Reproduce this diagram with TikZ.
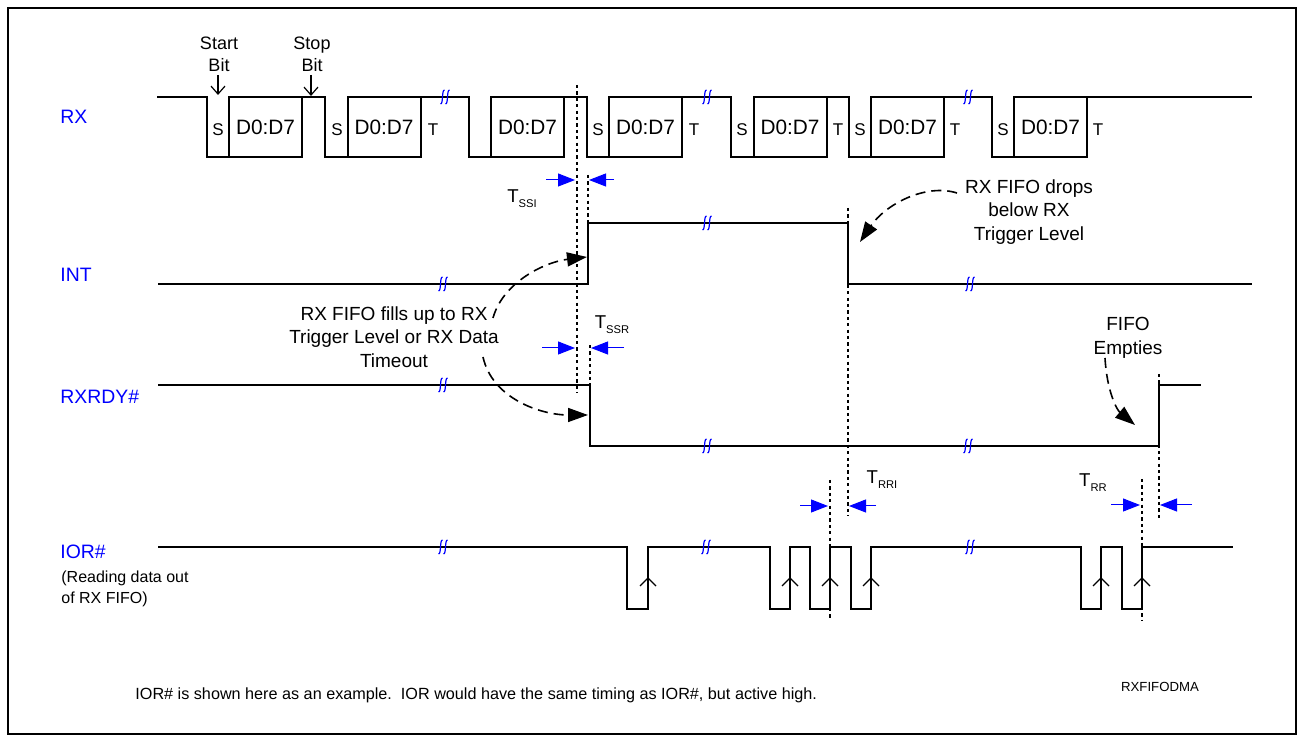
\documentclass[tikz,border=0pt]{standalone}
\usepackage{fontspec}
\setmainfont{Liberation Sans}
\usetikzlibrary{arrows.meta,positioning}

\begin{document}
\begin{tikzpicture}[x=0.5pt,y=-0.5pt,
  sig/.style={line width=1pt},
  guide/.style={dash pattern=on 1.6pt off 1.6pt, line width=0.6pt},
  dim/.style={blue, line width=0.5pt, -{Triangle[length=8.5pt,width=6.5pt]}},
  note/.style={dash pattern=on 5pt off 3pt, line width=0.8pt, -{Triangle[length=10pt,width=7pt]}},
  bitarr/.style={line width=0.6pt, -{Straight Barb[length=4pt,width=7pt]}},
  lbl/.style={blue, anchor=west, inner sep=0pt, font=\fontsize{9.7}{11}\selectfont},
  desc/.style={align=center, inner sep=0pt, font=\fontsize{9.5}{11.8}\selectfont},
  bit/.style={inner sep=0pt, font=\fontsize{8.5}{10}\selectfont},
  data/.style={draw, line width=1pt, outer sep=0pt, inner sep=0pt, minimum width=36.5pt, minimum height=30pt, font=\fontsize{10.4}{12}\selectfont},
  tm/.style={inner sep=0pt, font=\fontsize{9.3}{11}\selectfont},
  brk/.pic={\draw[blue, line width=0.6pt]
    (-4.5,7) .. controls (-1.5,7) and (-3.5,-7) .. (-0.5,-7)
    (0.5,7) .. controls (3.5,7) and (1.5,-7) .. (4.5,-7);}
]
\useasboundingbox (0,0) rectangle (1303,742);
\draw[line width=1pt] (8,8) rectangle (1296,734);

% signal names
\node[lbl] (rx) at (60,117) {RX};
\node[lbl] (int) at (60,275) {INT};
\node[lbl] (rxrdy) at (60,397) {RXRDY\#};
\node[lbl] (ior) at (60,552) {IOR\#};
\node[anchor=west, inner sep=0pt, align=left, font=\fontsize{8}{10.5}\selectfont] (iornote) at (61,589) {(Reading data out\\of RX FIFO)};

% RX frames
\node[data] (rxd1) at (265.5,127) {D0:D7};
\node[data] (rxd2) at (384,127) {D0:D7};
\node[data] (rxd3) at (527.5,127) {D0:D7};
\node[data] (rxd4) at (645.5,127) {D0:D7};
\node[data] (rxd5) at (790,127) {D0:D7};
\node[data] (rxd6) at (907.5,127) {D0:D7};
\node[data] (rxd7) at (1050.5,127) {D0:D7};
\draw[sig] (157,97) -| (207,157) -- (rxd1.south west);
\draw[sig] (rxd1.north east) -| (325,157) -- (rxd2.south west);
\draw[sig] (rxd2.north east) -| (469,157) -- (rxd3.south west);
\draw[sig] (rxd3.north east) -| (587,157) -- (rxd4.south west);
\draw[sig] (rxd4.north east) -| (731,157) -- (rxd5.south west);
\draw[sig] (rxd5.north east) -| (849,157) -- (rxd6.south west);
\draw[sig] (rxd6.north east) -| (992,157) -- (rxd7.south west);
\draw[sig] (rxd7.north east) -- (1252,97);
\foreach \x in {218,337,598,742,860,1003}
  \node[bit] at (\x,130) {S};
\foreach \x in {433,694,838,955,1098}
  \node[bit] at (\x,130) {T};
\node[bit, align=center, font=\fontsize{9}{11}\selectfont] (start) at (219,54) {Start\\Bit};
\node[bit, align=center, font=\fontsize{9}{11}\selectfont] (stop) at (312,54) {Stop\\Bit};
\draw[bitarr] (218,75) -- (218,95);
\draw[bitarr] (311,75) -- (311,96);

% INT, RXRDY#, IOR#
\draw[sig] (158,284) -- (588,284) -- (588,223) -- (848,223) -- (848,284) -- (1252,284);
\draw[sig] (158,385) -- (590,385) -- (590,446) -- (1159,446) -- (1159,385) -- (1201,385);
\draw[sig] (158,547) -| (627,609) -| (648,547) -| (770,609) -| (790,547) -| (810,609) -| (830,547)
  -| (851,609) -| (871,547) -| (1081,609) -| (1101,609) -- (1101,547) -| (1122,609) -| (1142,547) -- (1233,547);
\foreach \x in {648,790,830,871,1101,1142}
  \draw[line width=0.6pt] (\x-8,586) -- (\x,578) -- (\x+8,586);

% breaks
\foreach \p in {(445,97),(707,97),(968,97),(443,284),(707,223),(970,284),
  (443,385),(707,446),(968,446),(443,547),(706,547),(970,547)}
  \pic at \p {brk};

% timing guides
\draw[guide] (577,85) -- (577,393);
\draw[guide] (588,175) -- (588,223);
\draw[guide] (590,345) -- (590,385);
\draw[guide] (848,208) -- (848,516);
\draw[guide] (830,480) -- (830,620);
\draw[guide] (1159,374) -- (1159,518);
\draw[guide] (1142,479) -- (1142,620);
\draw[dim] (546,180) -- (575,180);
\draw[dim] (614,180) -- (589,180);
\draw[dim] (542,348) -- (575,348);
\draw[dim] (624,348) -- (591,348);
\draw[dim] (800,506) -- (828,506);
\draw[dim] (876,506) -- (849,506);
\draw[dim] (1111,505) -- (1140,505);
\draw[dim] (1192,505) -- (1160,505);
\node[tm] (tssi) at (522,199) {T\raisebox{-2.6pt}{\fontsize{5.6}{6}\selectfont SSI}};
\node[tm] (tssr) at (612,325) {T\raisebox{-2.6pt}{\fontsize{5.6}{6}\selectfont SSR}};
\node[tm] (trri) at (882,480) {T\raisebox{-2.6pt}{\fontsize{5.6}{6}\selectfont RRI}};
\node[tm] (trr) at (1093,483) {T\raisebox{-2.6pt}{\fontsize{5.6}{6}\selectfont RR}};

% notes
\node[desc] (fills) at (394,337) {RX FIFO fills up to RX\\Trigger Level or RX Data\\Timeout};
\node[desc] (drops) at (1029,212) {RX FIFO drops\\below RX\\Trigger Level};
\node[desc] (empties) at (1128,338) {FIFO\\Empties};
\coordinate (intrise) at (587,257);
\coordinate (rdyfall) at (588,415);
\coordinate (intfall) at (860,242);
\coordinate (rdyrise) at (1135,425);
\draw[note] (493,318) .. controls (503,282) and (545,262) .. (intrise);
\draw[note] (483,357) .. controls (492,398) and (540,415) .. (rdyfall);
\draw[note] (957,193) .. controls (925,183) and (885,205) .. (intfall);
\draw[note] (1105,358) .. controls (1107,392) and (1117,410) .. (rdyrise);

\node[anchor=west, inner sep=0pt, font=\fontsize{8.1}{9}\selectfont] (foot) at (135,695) {IOR\# is shown here as an example.\ \ IOR would have the same timing as IOR\#, but active high.};
\node[inner sep=0pt, font=\fontsize{6.6}{8}\selectfont] (tag) at (1160,687) {RXFIFODMA};
\end{tikzpicture}
\end{document}
